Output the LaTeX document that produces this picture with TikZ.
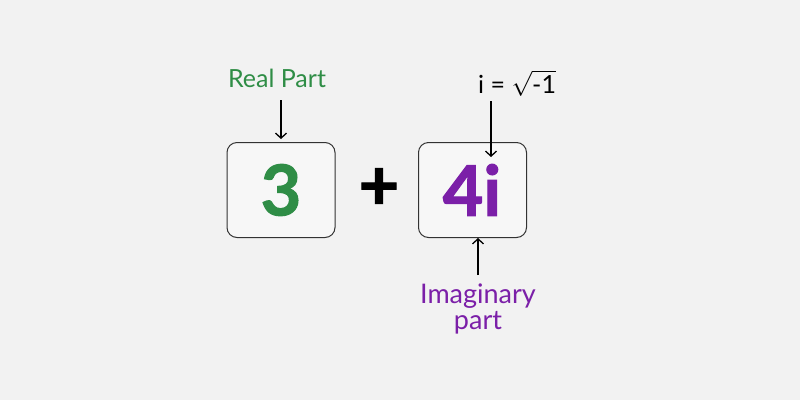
\documentclass[tikz,border=0pt]{standalone}
\usepackage{fontspec}
\setmainfont{Lato}
\newfontface\heavy[FakeBold=1.5]{Lato Bold}
\usetikzlibrary{arrows.meta}
\definecolor{bg}{HTML}{F2F2F2}
\definecolor{boxfill}{HTML}{F7F7F7}
\definecolor{gfggreen}{HTML}{2F8D46}
\definecolor{impurple}{HTML}{7B1FA8}
\tikzset{
  numbox/.style={draw=black!80, line width=1pt, rounded corners=10pt, fill=boxfill, minimum width=108pt, minimum height=95pt, inner sep=0pt},
  conn/.style={-{Straight Barb[length=5pt,width=11pt]}, line width=1.3pt},
  lbl/.style={font=\fontsize{25}{27}\selectfont, inner sep=1pt}
}
\begin{document}
\begin{tikzpicture}[x=1pt,y=-1pt]
\fill[bg] (0,0) rectangle (800,400);
\useasboundingbox (0,0) rectangle (800,400);
\node[numbox] (b1) at (281,190) {};
\node[numbox] (b2) at (472.5,190) {};
\node[text=gfggreen, font=\fontsize{70}{70}\selectfont\heavy] (three) at (281,190) {3};
\node[font=\fontsize{70}{70}\selectfont\heavy] (plus) at (379,189) {+};
\node[text=impurple, font=\fontsize{70}{70}\selectfont\heavy] (four) at (472,190) {4i};
\node[lbl, text=gfggreen] (real) at (277,78) {Real Part};
\node[lbl, anchor=west] (ieq) at (477,83) {i = $\sqrt{\mbox{-1}}$};
\node[lbl, text=impurple, align=center, font=\fontsize{27}{26}\selectfont] (imag) at (478,309) {Imaginary\\part};
\coordinate (realend) at (281,139);
\coordinate (ieqstart) at (491,101);
\coordinate (idot) at (491,157);
\coordinate (imagstart) at (478,275);
\draw[conn] (281,100) -- (realend);
\draw[conn] (ieqstart) -- (idot);
\draw[conn] (imagstart) -- (b2.south -| imagstart);
\end{tikzpicture}
\end{document}
